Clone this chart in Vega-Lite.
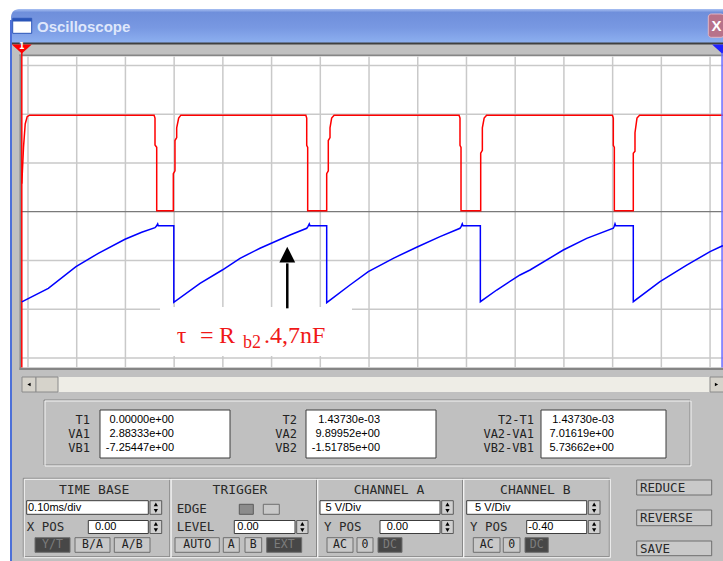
{
  "$schema": "https://vega.github.io/schema/vega-lite/v6.json",
  "width": 723,
  "height": 561,
  "autosize": {"type": "none"},
  "padding": 0,
  "background": "#ffffff",
  "config": {"view": {"stroke": null}},
  "datasets": {
    "ui_body": [{"x0": 10, "x1": 723, "y0": 42, "y1": 561}],
    "ui_titlebar": [{"x0": 11, "x1": 723, "y0": 9, "y1": 43}],
    "ui_border": [{"x0": 10, "x1": 12, "y0": 20, "y1": 561}],
    "ui_dark": [{"x0": 12, "x1": 723, "y0": 42.5, "y1": 44.5}],
    "ui_mid": [
      {"x0": 19.5, "x1": 21, "y0": 54.5, "y1": 370},
      {"x0": 19.5, "x1": 723, "y0": 54.5, "y1": 56},
      {"x0": 19.5, "x1": 723, "y0": 367.5, "y1": 370}
    ],
    "ui_track": [{"x0": 22, "x1": 723, "y0": 377, "y1": 392}],
    "ui_raised": [
      {"x0": 22, "x1": 36, "y0": 377, "y1": 392},
      {"x0": 36, "x1": 58, "y0": 377, "y1": 392},
      {"x0": 710, "x1": 724, "y0": 377, "y1": 392}
    ],
    "ui_arrow_l": [{"x": 29, "y": 384.5}],
    "ui_arrow_r": [{"x": 716.5, "y": 384.5}],
    "ui_groove": [
      {"x0": 44, "x1": 690, "y0": 400, "y1": 465},
      {"x0": 23.3, "x1": 170, "y0": 478.3, "y1": 556.7},
      {"x0": 170, "x1": 316.7, "y0": 478.3, "y1": 556.7},
      {"x0": 316.7, "x1": 462.7, "y0": 478.3, "y1": 556.7},
      {"x0": 462.7, "x1": 609.3, "y0": 478.3, "y1": 556.7}
    ],
    "ui_groove_hi": [
      {"x0": 45, "x1": 691, "y0": 401, "y1": 466},
      {"x0": 24.3, "x1": 171, "y0": 479.3, "y1": 557.7},
      {"x0": 171, "x1": 317.7, "y0": 479.3, "y1": 557.7},
      {"x0": 317.7, "x1": 463.7, "y0": 479.3, "y1": 557.7},
      {"x0": 463.7, "x1": 610.3, "y0": 479.3, "y1": 557.7}
    ],
    "ui_white": [
      {"x0": 100, "x1": 230, "y0": 410, "y1": 458},
      {"x0": 306, "x1": 436, "y0": 410, "y1": 458},
      {"x0": 541, "x1": 666, "y0": 410, "y1": 458},
      {"x0": 26.7, "x1": 148.3, "y0": 500.7, "y1": 514.3},
      {"x0": 88.3, "x1": 148.3, "y0": 520.5, "y1": 533.5},
      {"x0": 234.3, "x1": 295, "y0": 520.5, "y1": 533.5},
      {"x0": 320, "x1": 440, "y0": 500.7, "y1": 514.3},
      {"x0": 380, "x1": 440, "y0": 520.5, "y1": 533.5},
      {"x0": 466.7, "x1": 586.7, "y0": 500.7, "y1": 514.3},
      {"x0": 526.7, "x1": 586.7, "y0": 520.5, "y1": 533.5}
    ],
    "ui_spin": [
      {"x0": 150, "x1": 161.7, "y0": 500.7, "y1": 514.3},
      {"x0": 150, "x1": 161.7, "y0": 520.5, "y1": 533.5},
      {"x0": 296.7, "x1": 308, "y0": 520.5, "y1": 533.5},
      {"x0": 441.7, "x1": 453.3, "y0": 500.7, "y1": 514.3},
      {"x0": 441.7, "x1": 453.3, "y0": 520.5, "y1": 533.5},
      {"x0": 588.3, "x1": 600, "y0": 500.7, "y1": 514.3},
      {"x0": 588.3, "x1": 600, "y0": 520.5, "y1": 533.5}
    ],
    "ui_spin_up": [
      {"x": 155.85, "y": 504.3}, {"x": 155.85, "y": 523.9}, {"x": 302.35, "y": 523.9},
      {"x": 447.5, "y": 504.3}, {"x": 447.5, "y": 523.9}, {"x": 594.15, "y": 504.3}, {"x": 594.15, "y": 523.9}
    ],
    "ui_spin_dn": [
      {"x": 155.85, "y": 510.9}, {"x": 155.85, "y": 530.2}, {"x": 302.35, "y": 530.2},
      {"x": 447.5, "y": 510.9}, {"x": 447.5, "y": 530.2}, {"x": 594.15, "y": 510.9}, {"x": 594.15, "y": 530.2}
    ],
    "ui_btn": [
      {"x0": 75, "x1": 110, "y0": 537.7, "y1": 552.3},
      {"x0": 114.3, "x1": 150, "y0": 537.7, "y1": 552.3},
      {"x0": 175, "x1": 219.3, "y0": 537.7, "y1": 552.3},
      {"x0": 223.3, "x1": 239.3, "y0": 537.7, "y1": 552.3},
      {"x0": 245, "x1": 261.7, "y0": 537.7, "y1": 552.3},
      {"x0": 327, "x1": 353, "y0": 537.7, "y1": 552.3},
      {"x0": 357, "x1": 373, "y0": 537.7, "y1": 552.3},
      {"x0": 473.3, "x1": 500, "y0": 537.7, "y1": 552.3},
      {"x0": 503.3, "x1": 520, "y0": 537.7, "y1": 552.3},
      {"x0": 263.3, "x1": 279.3, "y0": 504.3, "y1": 514.3},
      {"x0": 636.7, "x1": 711.7, "y0": 480, "y1": 495},
      {"x0": 636.7, "x1": 711.7, "y0": 510, "y1": 525.7},
      {"x0": 636.7, "x1": 711.7, "y0": 541, "y1": 555.7}
    ],
    "ui_btn_dark": [
      {"x0": 35, "x1": 70, "y0": 537.7, "y1": 552.3},
      {"x0": 266.7, "x1": 301.7, "y0": 537.7, "y1": 552.3},
      {"x0": 378, "x1": 402, "y0": 537.7, "y1": 552.3},
      {"x0": 525, "x1": 548.3, "y0": 537.7, "y1": 552.3}
    ],
    "ui_btn_mid": [{"x0": 239.3, "x1": 253.3, "y0": 504.3, "y1": 514.3}],
    "ui_icon": [{"x0": 12.7, "x1": 31.7, "y0": 18.3, "y1": 33.3}],
    "ui_icon_bar": [{"x0": 12.7, "x1": 31.7, "y0": 18.3, "y1": 21.5}],
    "ui_close": [{"x0": 708.3, "x1": 724, "y0": 14, "y1": 37.3}],
    "ui_t_title": [{"x": 37, "y": 26.5, "text": "Oscilloscope"}],
    "ui_t_close": [{"x": 716.5, "y": 26, "text": "X"}],
    "ui_t_rl": [
      {"x": 90, "y": 420, "text": "T1"}, {"x": 90, "y": 434, "text": "VA1"}, {"x": 90, "y": 448, "text": "VB1"},
      {"x": 297, "y": 420, "text": "T2"}, {"x": 297, "y": 434, "text": "VA2"}, {"x": 297, "y": 448, "text": "VB2"},
      {"x": 534, "y": 420, "text": "T2-T1"}, {"x": 534, "y": 434, "text": "VA2-VA1"}, {"x": 534, "y": 448, "text": "VB2-VB1"}
    ],
    "ui_t_rv": [
      {"x": 174, "y": 420, "text": "0.00000e+00"}, {"x": 174, "y": 434, "text": "2.88333e+00"}, {"x": 174, "y": 448, "text": "-7.25447e+00"},
      {"x": 380, "y": 420, "text": "1.43730e-03"}, {"x": 380, "y": 434, "text": "9.89952e+00"}, {"x": 380, "y": 448, "text": "-1.51785e+00"},
      {"x": 614, "y": 420, "text": "1.43730e-03"}, {"x": 614, "y": 434, "text": "7.01619e+00"}, {"x": 614, "y": 448, "text": "5.73662e+00"}
    ],
    "ui_t_hdr": [
      {"x": 94.2, "y": 490, "text": "TIME BASE"}, {"x": 240, "y": 490, "text": "TRIGGER"},
      {"x": 389, "y": 490, "text": "CHANNEL A"}, {"x": 535.3, "y": 490, "text": "CHANNEL B"}
    ],
    "ui_t_lbl": [
      {"x": 176.7, "y": 509.3, "text": "EDGE"}, {"x": 176.7, "y": 526.7, "text": "LEVEL"},
      {"x": 26.7, "y": 526.7, "text": "X POS"}, {"x": 324, "y": 526.7, "text": "Y POS"}, {"x": 470, "y": 526.7, "text": "Y POS"},
      {"x": 640, "y": 487.5, "text": "REDUCE"}, {"x": 640, "y": 518, "text": "REVERSE"}, {"x": 640, "y": 548.5, "text": "SAVE"}
    ],
    "ui_t_in": [
      {"x": 28, "y": 507.5, "text": "0.10ms/div"}, {"x": 95, "y": 527, "text": "0.00"},
      {"x": 237.3, "y": 527, "text": "0.00"}, {"x": 325.5, "y": 507.5, "text": "5 V/Div"},
      {"x": 386.7, "y": 527, "text": "0.00"}, {"x": 475, "y": 507.5, "text": "5 V/Div"}, {"x": 528.3, "y": 527, "text": "-0.40"}
    ],
    "ui_t_btn": [
      {"x": 92.5, "y": 545, "text": "B/A"}, {"x": 132.2, "y": 545, "text": "A/B"}, {"x": 197.2, "y": 545, "text": "AUTO"},
      {"x": 231.3, "y": 545, "text": "A"}, {"x": 253.3, "y": 545, "text": "B"}, {"x": 340, "y": 545, "text": "AC"},
      {"x": 365, "y": 545, "text": "0"}, {"x": 486.7, "y": 545, "text": "AC"}, {"x": 511.7, "y": 545, "text": "0"}
    ],
    "ui_t_btnd": [
      {"x": 52.5, "y": 545, "text": "Y/T"}, {"x": 284.2, "y": 545, "text": "EXT"},
      {"x": 390, "y": 545, "text": "DC"}, {"x": 536.7, "y": 545, "text": "DC"}
    ],
    "vgrid": [
      {"t": 0.0127}, {"t": 0.1127}, {"t": 0.2127}, {"t": 0.3127}, {"t": 0.4127}, {"t": 0.5127}, {"t": 0.6127}, {"t": 0.7127},
      {"t": 0.8127}, {"t": 0.9127}, {"t": 1.0127}, {"t": 1.1127}, {"t": 1.2127}, {"t": 1.3127}, {"t": 1.4127}
    ],
    "hgrid": [{"v": 15}, {"v": 10}, {"v": 5}, {"v": -5}, {"v": -10}, {"v": -15}],
    "chA": [
      {"t": 0, "v": 2.88}, {"t": 0.0035, "v": 6.6}, {"t": 0.007, "v": 9.0}, {"t": 0.011, "v": 9.75}, {"t": 0.016, "v": 9.9},
      {"t": 0.2715, "v": 9.9}, {"t": 0.2734, "v": 9.6}, {"t": 0.2734, "v": 6.85}, {"t": 0.2769, "v": 6.6}, {"t": 0.2769, "v": 0.1}, {"t": 0.311, "v": 0.1},
      {"t": 0.311, "v": 3.9}, {"t": 0.3144, "v": 4.2}, {"t": 0.3144, "v": 7.3}, {"t": 0.3179, "v": 7.6}, {"t": 0.3179, "v": 8.6}, {"t": 0.322, "v": 9.6}, {"t": 0.3265, "v": 9.9},
      {"t": 0.583, "v": 9.9}, {"t": 0.5848, "v": 9.6}, {"t": 0.5848, "v": 6.8}, {"t": 0.5868, "v": 6.6}, {"t": 0.5868, "v": 0.1}, {"t": 0.6258, "v": 0.1},
      {"t": 0.6258, "v": 3.9}, {"t": 0.6291, "v": 4.2}, {"t": 0.6291, "v": 7.3}, {"t": 0.6326, "v": 7.6}, {"t": 0.6326, "v": 8.6}, {"t": 0.636, "v": 9.6}, {"t": 0.641, "v": 9.9},
      {"t": 0.8975, "v": 9.9}, {"t": 0.8994, "v": 9.6}, {"t": 0.8994, "v": 6.8}, {"t": 0.9015, "v": 6.6}, {"t": 0.9015, "v": 0.1}, {"t": 0.9419, "v": 0.1},
      {"t": 0.9419, "v": 6.0}, {"t": 0.9453, "v": 6.3}, {"t": 0.9453, "v": 8.6}, {"t": 0.949, "v": 9.6}, {"t": 0.954, "v": 9.9},
      {"t": 1.2122, "v": 9.9}, {"t": 1.2141, "v": 9.6}, {"t": 1.2141, "v": 6.8}, {"t": 1.2162, "v": 6.6}, {"t": 1.2162, "v": 0.1}, {"t": 1.2551, "v": 0.1},
      {"t": 1.2551, "v": 6.0}, {"t": 1.2586, "v": 6.2}, {"t": 1.2586, "v": 8.1}, {"t": 1.2627, "v": 9.6}, {"t": 1.268, "v": 9.9},
      {"t": 1.4392, "v": 9.9}
    ],
    "chB": [
      {"t": 0, "v": -7.25}, {"t": 0.0544, "v": -5.86}, {"t": 0.1112, "v": -3.64}, {"t": 0.157, "v": -2.27}, {"t": 0.2118, "v": -0.83},
      {"t": 0.2461, "v": -0.11}, {"t": 0.2734, "v": 0.36}, {"t": 0.276, "v": 0.5}, {"t": 0.2789, "v": 0.75}, {"t": 0.28, "v": 0.56}, {"t": 0.312, "v": 0.56}, {"t": 0.312, "v": -7.29},
      {"t": 0.3658, "v": -5.34}, {"t": 0.4115, "v": -3.98}, {"t": 0.4479, "v": -2.78}, {"t": 0.4889, "v": -1.75}, {"t": 0.5505, "v": -0.39},
      {"t": 0.5848, "v": 0.3}, {"t": 0.5875, "v": 0.5}, {"t": 0.5901, "v": 0.75}, {"t": 0.5915, "v": 0.56}, {"t": 0.6258, "v": 0.56}, {"t": 0.6258, "v": -7.33},
      {"t": 0.6736, "v": -5.52}, {"t": 0.7112, "v": -4.15}, {"t": 0.7625, "v": -2.78}, {"t": 0.8126, "v": -1.59}, {"t": 0.8584, "v": -0.56},
      {"t": 0.8994, "v": 0.3}, {"t": 0.902, "v": 0.5}, {"t": 0.9041, "v": 0.75}, {"t": 0.9055, "v": 0.56}, {"t": 0.9412, "v": 0.56}, {"t": 0.9412, "v": -7.23},
      {"t": 0.9748, "v": -6.03}, {"t": 1.0226, "v": -4.49}, {"t": 1.0431, "v": -3.98}, {"t": 1.1114, "v": -1.93}, {"t": 1.1595, "v": -0.73},
      {"t": 1.2141, "v": 0.3}, {"t": 1.216, "v": 0.5}, {"t": 1.2176, "v": 0.75}, {"t": 1.219, "v": 0.56}, {"t": 1.2551, "v": 0.56}, {"t": 1.2551, "v": -7.23},
      {"t": 1.3099, "v": -5.18}, {"t": 1.3647, "v": -3.47}, {"t": 1.4126, "v": -2.1}, {"t": 1.4373, "v": -1.52}, {"t": 1.4392, "v": -1.48}
    ],
    "note_big": [
      {"t": 0.3179, "v": -13.5, "text": "τ"}, {"t": 0.3658, "v": -13.5, "text": "="},
      {"t": 0.4048, "v": -13.5, "text": "R"}, {"t": 0.4971, "v": -13.5, "text": ".4,7nF"}
    ],
    "note_sub": [{"t": 0.454, "v": -13.98, "text": "b2"}]
  },
  "layer": [
    {
      "layer": [
        {"data": {"name": "ui_body"}, "mark": {"type": "rect", "fill": "#c0c0c0"},
         "encoding": {"x": {"field": "x0", "type": "quantitative", "scale": {"domain": [0, 723], "nice": false, "zero": false}, "axis": null}, "x2": {"field": "x1"},
                      "y": {"field": "y0", "type": "quantitative", "scale": {"domain": [0, 561], "nice": false, "zero": false, "reverse": true}, "axis": null}, "y2": {"field": "y1"}}},
        {"data": {"name": "ui_titlebar"}, "mark": {"type": "rect", "cornerRadiusTopLeft": 8,
           "fill": {"gradient": "linear", "x1": 0, "y1": 0, "x2": 0, "y2": 1, "stops": [{"offset": 0, "color": "#a9c0f2"}, {"offset": 0.1, "color": "#6f8fdb"}, {"offset": 0.55, "color": "#7898e2"}, {"offset": 1, "color": "#8db0f0"}]}},
         "encoding": {"x": {"field": "x0", "type": "quantitative", "scale": {"domain": [0, 723], "nice": false, "zero": false}, "axis": null}, "x2": {"field": "x1"},
                      "y": {"field": "y0", "type": "quantitative", "scale": {"domain": [0, 561], "nice": false, "zero": false, "reverse": true}, "axis": null}, "y2": {"field": "y1"}}},
        {"data": {"name": "ui_border"}, "mark": {"type": "rect", "fill": "#4d70d8"},
         "encoding": {"x": {"field": "x0", "type": "quantitative", "axis": null}, "x2": {"field": "x1"}, "y": {"field": "y0", "type": "quantitative", "axis": null}, "y2": {"field": "y1"}}},
        {"data": {"name": "ui_dark"}, "mark": {"type": "rect", "fill": "#404040"},
         "encoding": {"x": {"field": "x0", "type": "quantitative", "axis": null}, "x2": {"field": "x1"}, "y": {"field": "y0", "type": "quantitative", "axis": null}, "y2": {"field": "y1"}}},
        {"data": {"name": "ui_mid"}, "mark": {"type": "rect", "fill": "#858585"},
         "encoding": {"x": {"field": "x0", "type": "quantitative", "axis": null}, "x2": {"field": "x1"}, "y": {"field": "y0", "type": "quantitative", "axis": null}, "y2": {"field": "y1"}}},
        {"data": {"name": "ui_track"}, "mark": {"type": "rect", "fill": "#eeede6"},
         "encoding": {"x": {"field": "x0", "type": "quantitative", "axis": null}, "x2": {"field": "x1"}, "y": {"field": "y0", "type": "quantitative", "axis": null}, "y2": {"field": "y1"}}},
        {"data": {"name": "ui_raised"}, "mark": {"type": "rect", "fill": "#d6d3cb", "stroke": "#8a8a8a", "strokeWidth": 1},
         "encoding": {"x": {"field": "x0", "type": "quantitative", "axis": null}, "x2": {"field": "x1"}, "y": {"field": "y0", "type": "quantitative", "axis": null}, "y2": {"field": "y1"}}},
        {"data": {"name": "ui_arrow_l"}, "mark": {"type": "point", "shape": "triangle-left", "size": 14, "filled": true, "color": "#000000", "opacity": 1},
         "encoding": {"x": {"field": "x", "type": "quantitative", "axis": null}, "y": {"field": "y", "type": "quantitative", "axis": null}}},
        {"data": {"name": "ui_arrow_r"}, "mark": {"type": "point", "shape": "triangle-right", "size": 14, "filled": true, "color": "#000000", "opacity": 1},
         "encoding": {"x": {"field": "x", "type": "quantitative", "axis": null}, "y": {"field": "y", "type": "quantitative", "axis": null}}},
        {"data": {"name": "ui_groove"}, "mark": {"type": "rect", "fill": null, "fillOpacity": 0, "stroke": "#878787", "strokeWidth": 1},
         "encoding": {"x": {"field": "x0", "type": "quantitative", "axis": null}, "x2": {"field": "x1"}, "y": {"field": "y0", "type": "quantitative", "axis": null}, "y2": {"field": "y1"}}},
        {"data": {"name": "ui_groove_hi"}, "mark": {"type": "rect", "fill": null, "fillOpacity": 0, "stroke": "#f4f4f4", "strokeWidth": 1},
         "encoding": {"x": {"field": "x0", "type": "quantitative", "axis": null}, "x2": {"field": "x1"}, "y": {"field": "y0", "type": "quantitative", "axis": null}, "y2": {"field": "y1"}}},
        {"data": {"name": "ui_white"}, "mark": {"type": "rect", "fill": "#ffffff", "stroke": "#3c3c3c", "strokeWidth": 1},
         "encoding": {"x": {"field": "x0", "type": "quantitative", "axis": null}, "x2": {"field": "x1"}, "y": {"field": "y0", "type": "quantitative", "axis": null}, "y2": {"field": "y1"}}},
        {"data": {"name": "ui_spin"}, "mark": {"type": "rect", "fill": "#d0d0d0", "stroke": "#5a5a5a", "strokeWidth": 1},
         "encoding": {"x": {"field": "x0", "type": "quantitative", "axis": null}, "x2": {"field": "x1"}, "y": {"field": "y0", "type": "quantitative", "axis": null}, "y2": {"field": "y1"}}},
        {"data": {"name": "ui_spin_up"}, "mark": {"type": "point", "shape": "triangle-up", "size": 18, "filled": true, "color": "#000000", "opacity": 1},
         "encoding": {"x": {"field": "x", "type": "quantitative", "axis": null}, "y": {"field": "y", "type": "quantitative", "axis": null}}},
        {"data": {"name": "ui_spin_dn"}, "mark": {"type": "point", "shape": "triangle-down", "size": 18, "filled": true, "color": "#000000", "opacity": 1},
         "encoding": {"x": {"field": "x", "type": "quantitative", "axis": null}, "y": {"field": "y", "type": "quantitative", "axis": null}}},
        {"data": {"name": "ui_btn"}, "mark": {"type": "rect", "fill": "#c9c9c9", "stroke": "#6e6e6e", "strokeWidth": 1},
         "encoding": {"x": {"field": "x0", "type": "quantitative", "axis": null}, "x2": {"field": "x1"}, "y": {"field": "y0", "type": "quantitative", "axis": null}, "y2": {"field": "y1"}}},
        {"data": {"name": "ui_btn_dark"}, "mark": {"type": "rect", "fill": "#474747", "stroke": "#6e6e6e", "strokeWidth": 1},
         "encoding": {"x": {"field": "x0", "type": "quantitative", "axis": null}, "x2": {"field": "x1"}, "y": {"field": "y0", "type": "quantitative", "axis": null}, "y2": {"field": "y1"}}},
        {"data": {"name": "ui_btn_mid"}, "mark": {"type": "rect", "fill": "#8c8c8c", "stroke": "#5a5a5a", "strokeWidth": 1},
         "encoding": {"x": {"field": "x0", "type": "quantitative", "axis": null}, "x2": {"field": "x1"}, "y": {"field": "y0", "type": "quantitative", "axis": null}, "y2": {"field": "y1"}}},
        {"data": {"name": "ui_icon"}, "mark": {"type": "rect", "fill": "#ffffff", "stroke": "#2a55b8", "strokeWidth": 1},
         "encoding": {"x": {"field": "x0", "type": "quantitative", "axis": null}, "x2": {"field": "x1"}, "y": {"field": "y0", "type": "quantitative", "axis": null}, "y2": {"field": "y1"}}},
        {"data": {"name": "ui_icon_bar"}, "mark": {"type": "rect", "fill": "#2a55b8"},
         "encoding": {"x": {"field": "x0", "type": "quantitative", "axis": null}, "x2": {"field": "x1"}, "y": {"field": "y0", "type": "quantitative", "axis": null}, "y2": {"field": "y1"}}},
        {"data": {"name": "ui_close"}, "mark": {"type": "rect", "fill": "#b8728a", "stroke": "#e2b4c4", "strokeWidth": 1, "cornerRadius": 3},
         "encoding": {"x": {"field": "x0", "type": "quantitative", "axis": null}, "x2": {"field": "x1"}, "y": {"field": "y0", "type": "quantitative", "axis": null}, "y2": {"field": "y1"}}},
        {"data": {"name": "ui_t_title"}, "mark": {"type": "text", "align": "left", "baseline": "middle", "font": "Liberation Sans", "fontWeight": "bold", "fontSize": 15, "fill": "#dfe7fb"},
         "encoding": {"x": {"field": "x", "type": "quantitative", "axis": null}, "y": {"field": "y", "type": "quantitative", "axis": null}, "text": {"field": "text"}}},
        {"data": {"name": "ui_t_close"}, "mark": {"type": "text", "align": "center", "baseline": "middle", "font": "Liberation Sans", "fontWeight": "bold", "fontSize": 15, "fill": "#ffffff"},
         "encoding": {"x": {"field": "x", "type": "quantitative", "axis": null}, "y": {"field": "y", "type": "quantitative", "axis": null}, "text": {"field": "text"}}},
        {"data": {"name": "ui_t_rl"}, "mark": {"type": "text", "align": "right", "baseline": "middle", "font": "DejaVu Sans Mono", "fontSize": 12, "fill": "#222222"},
         "encoding": {"x": {"field": "x", "type": "quantitative", "axis": null}, "y": {"field": "y", "type": "quantitative", "axis": null}, "text": {"field": "text"}}},
        {"data": {"name": "ui_t_rv"}, "mark": {"type": "text", "align": "right", "baseline": "middle", "font": "Liberation Sans", "fontSize": 11, "fill": "#000000"},
         "encoding": {"x": {"field": "x", "type": "quantitative", "axis": null}, "y": {"field": "y", "type": "quantitative", "axis": null}, "text": {"field": "text"}}},
        {"data": {"name": "ui_t_hdr"}, "mark": {"type": "text", "align": "center", "baseline": "middle", "font": "DejaVu Sans Mono", "fontSize": 13, "fill": "#2a2a2a"},
         "encoding": {"x": {"field": "x", "type": "quantitative", "axis": null}, "y": {"field": "y", "type": "quantitative", "axis": null}, "text": {"field": "text"}}},
        {"data": {"name": "ui_t_lbl"}, "mark": {"type": "text", "align": "left", "baseline": "middle", "font": "DejaVu Sans Mono", "fontSize": 12.5, "fill": "#2a2a2a"},
         "encoding": {"x": {"field": "x", "type": "quantitative", "axis": null}, "y": {"field": "y", "type": "quantitative", "axis": null}, "text": {"field": "text"}}},
        {"data": {"name": "ui_t_in"}, "mark": {"type": "text", "align": "left", "baseline": "middle", "font": "Liberation Sans", "fontSize": 11, "fill": "#000000"},
         "encoding": {"x": {"field": "x", "type": "quantitative", "axis": null}, "y": {"field": "y", "type": "quantitative", "axis": null}, "text": {"field": "text"}}},
        {"data": {"name": "ui_t_btn"}, "mark": {"type": "text", "align": "center", "baseline": "middle", "font": "DejaVu Sans Mono", "fontSize": 11.5, "fill": "#222222"},
         "encoding": {"x": {"field": "x", "type": "quantitative", "axis": null}, "y": {"field": "y", "type": "quantitative", "axis": null}, "text": {"field": "text"}}},
        {"data": {"name": "ui_t_btnd"}, "mark": {"type": "text", "align": "center", "baseline": "middle", "font": "DejaVu Sans Mono", "fontSize": 11.5, "fill": "#7d7d7d"},
         "encoding": {"x": {"field": "x", "type": "quantitative", "axis": null}, "y": {"field": "y", "type": "quantitative", "axis": null}, "text": {"field": "text"}}}
      ]
    },
    {
      "data": {"values": [{}]},
      "layer": [
        {"mark": {"type": "rect", "fill": "#ffffff"},
         "encoding": {"x": {"datum": -0.0016, "type": "quantitative", "scale": {"domain": [-0.04475, 1.43924], "nice": false, "zero": false}, "axis": null}, "x2": {"datum": 1.4392},
                      "y": {"datum": 15.92, "type": "quantitative", "scale": {"domain": [-35.824, 21.712], "nice": false, "zero": false}, "axis": null}, "y2": {"datum": -15.98}}},
        {"data": {"name": "vgrid"}, "mark": {"type": "rule", "color": "#c9c9c9", "strokeWidth": 1.5},
         "encoding": {"x": {"field": "t", "type": "quantitative", "axis": null}, "y": {"datum": 15.92, "type": "quantitative", "axis": null}, "y2": {"datum": -15.98}}},
        {"data": {"name": "hgrid"}, "mark": {"type": "rule", "color": "#c9c9c9", "strokeWidth": 1.5},
         "encoding": {"y": {"field": "v", "type": "quantitative", "axis": null}, "x": {"datum": -0.0016, "type": "quantitative", "axis": null}, "x2": {"datum": 1.4392}}},
        {"mark": {"type": "rule", "color": "#7a7a7a", "strokeWidth": 1.2},
         "encoding": {"y": {"datum": 0, "type": "quantitative", "axis": null}, "x": {"datum": -0.0016, "type": "quantitative", "axis": null}, "x2": {"datum": 1.4392}}},
        {"mark": {"type": "rect", "fill": "#ffffff"},
         "encoding": {"x": {"datum": 0.2837, "type": "quantitative", "axis": null}, "x2": {"datum": 0.6777}, "y": {"datum": -9.77, "type": "quantitative", "axis": null}, "y2": {"datum": -14.8}}},
        {"data": {"name": "chA"}, "mark": {"type": "line", "color": "#ff0000", "strokeWidth": 1.5},
         "encoding": {"x": {"field": "t", "type": "quantitative", "axis": null}, "y": {"field": "v", "type": "quantitative", "axis": null}, "order": {"value": null}}},
        {"mark": {"type": "rule", "color": "#000000", "strokeWidth": 2.5},
         "encoding": {"x": {"datum": 0.5449, "type": "quantitative", "axis": null}, "y": {"datum": -5.3, "type": "quantitative", "axis": null}, "y2": {"datum": -9.91}}},
        {"mark": {"type": "point", "shape": "M0,-1L-1,1L1,1Z", "size": 250, "filled": true, "color": "#000000", "opacity": 1},
         "encoding": {"x": {"datum": 0.5449, "type": "quantitative", "axis": null}, "y": {"datum": -4.4, "type": "quantitative", "axis": null}}},
        {"data": {"name": "note_big"}, "mark": {"type": "text", "align": "left", "baseline": "alphabetic", "font": "Liberation Serif", "fontSize": 24, "fill": "#f01818"},
         "encoding": {"x": {"field": "t", "type": "quantitative", "axis": null}, "y": {"field": "v", "type": "quantitative", "axis": null}, "text": {"field": "text"}}},
        {"data": {"name": "note_sub"}, "mark": {"type": "text", "align": "left", "baseline": "alphabetic", "font": "Liberation Serif", "fontSize": 18, "fill": "#f01818"},
         "encoding": {"x": {"field": "t", "type": "quantitative", "axis": null}, "y": {"field": "v", "type": "quantitative", "axis": null}, "text": {"field": "text"}}},
        {"mark": {"type": "rule", "color": "#ff0000", "strokeWidth": 1.5},
         "encoding": {"x": {"datum": 0, "type": "quantitative", "axis": null}, "y": {"datum": 16.4, "type": "quantitative", "axis": null}, "y2": {"datum": -15.98}}},
        {"mark": {"type": "rule", "color": "#6a6aff", "strokeWidth": 1.5},
         "encoding": {"x": {"datum": 1.4373, "type": "quantitative", "axis": null}, "y": {"datum": 16.4, "type": "quantitative", "axis": null}, "y2": {"datum": -15.98}}},
        {"mark": {"type": "point", "shape": "M-1,-0.45L1,-0.45L0,0.45Z", "size": 400, "filled": true, "color": "#ff0000", "opacity": 1},
         "encoding": {"x": {"datum": 0, "type": "quantitative", "axis": null}, "y": {"datum": 16.69, "type": "quantitative", "axis": null}}},
        {"mark": {"type": "point", "shape": "M-1,-0.45L1,-0.45L0,0.45Z", "size": 400, "filled": true, "color": "#2222ff", "opacity": 1},
         "encoding": {"x": {"datum": 1.4373, "type": "quantitative", "axis": null}, "y": {"datum": 16.69, "type": "quantitative", "axis": null}}},
        {"mark": {"type": "text", "align": "center", "baseline": "middle", "font": "DejaVu Sans", "fontWeight": "bold", "fontSize": 8, "fill": "#ffffff"},
         "encoding": {"x": {"datum": 0, "type": "quantitative", "axis": null}, "y": {"datum": 16.85, "type": "quantitative", "axis": null}, "text": {"value": "1"}}}
      ]
    },
    {
      "data": {"name": "chB"},
      "mark": {"type": "line", "color": "#0000ff", "strokeWidth": 1.5},
      "encoding": {
        "x": {"field": "t", "type": "quantitative", "scale": {"domain": [-0.04475, 1.43924], "nice": false, "zero": false}, "axis": null},
        "y": {"field": "v", "type": "quantitative", "scale": {"domain": [-33.824, 23.712], "nice": false, "zero": false}, "axis": null},
        "order": {"value": null}
      }
    }
  ],
  "resolve": {"scale": {"x": "independent", "y": "independent"}}
}
